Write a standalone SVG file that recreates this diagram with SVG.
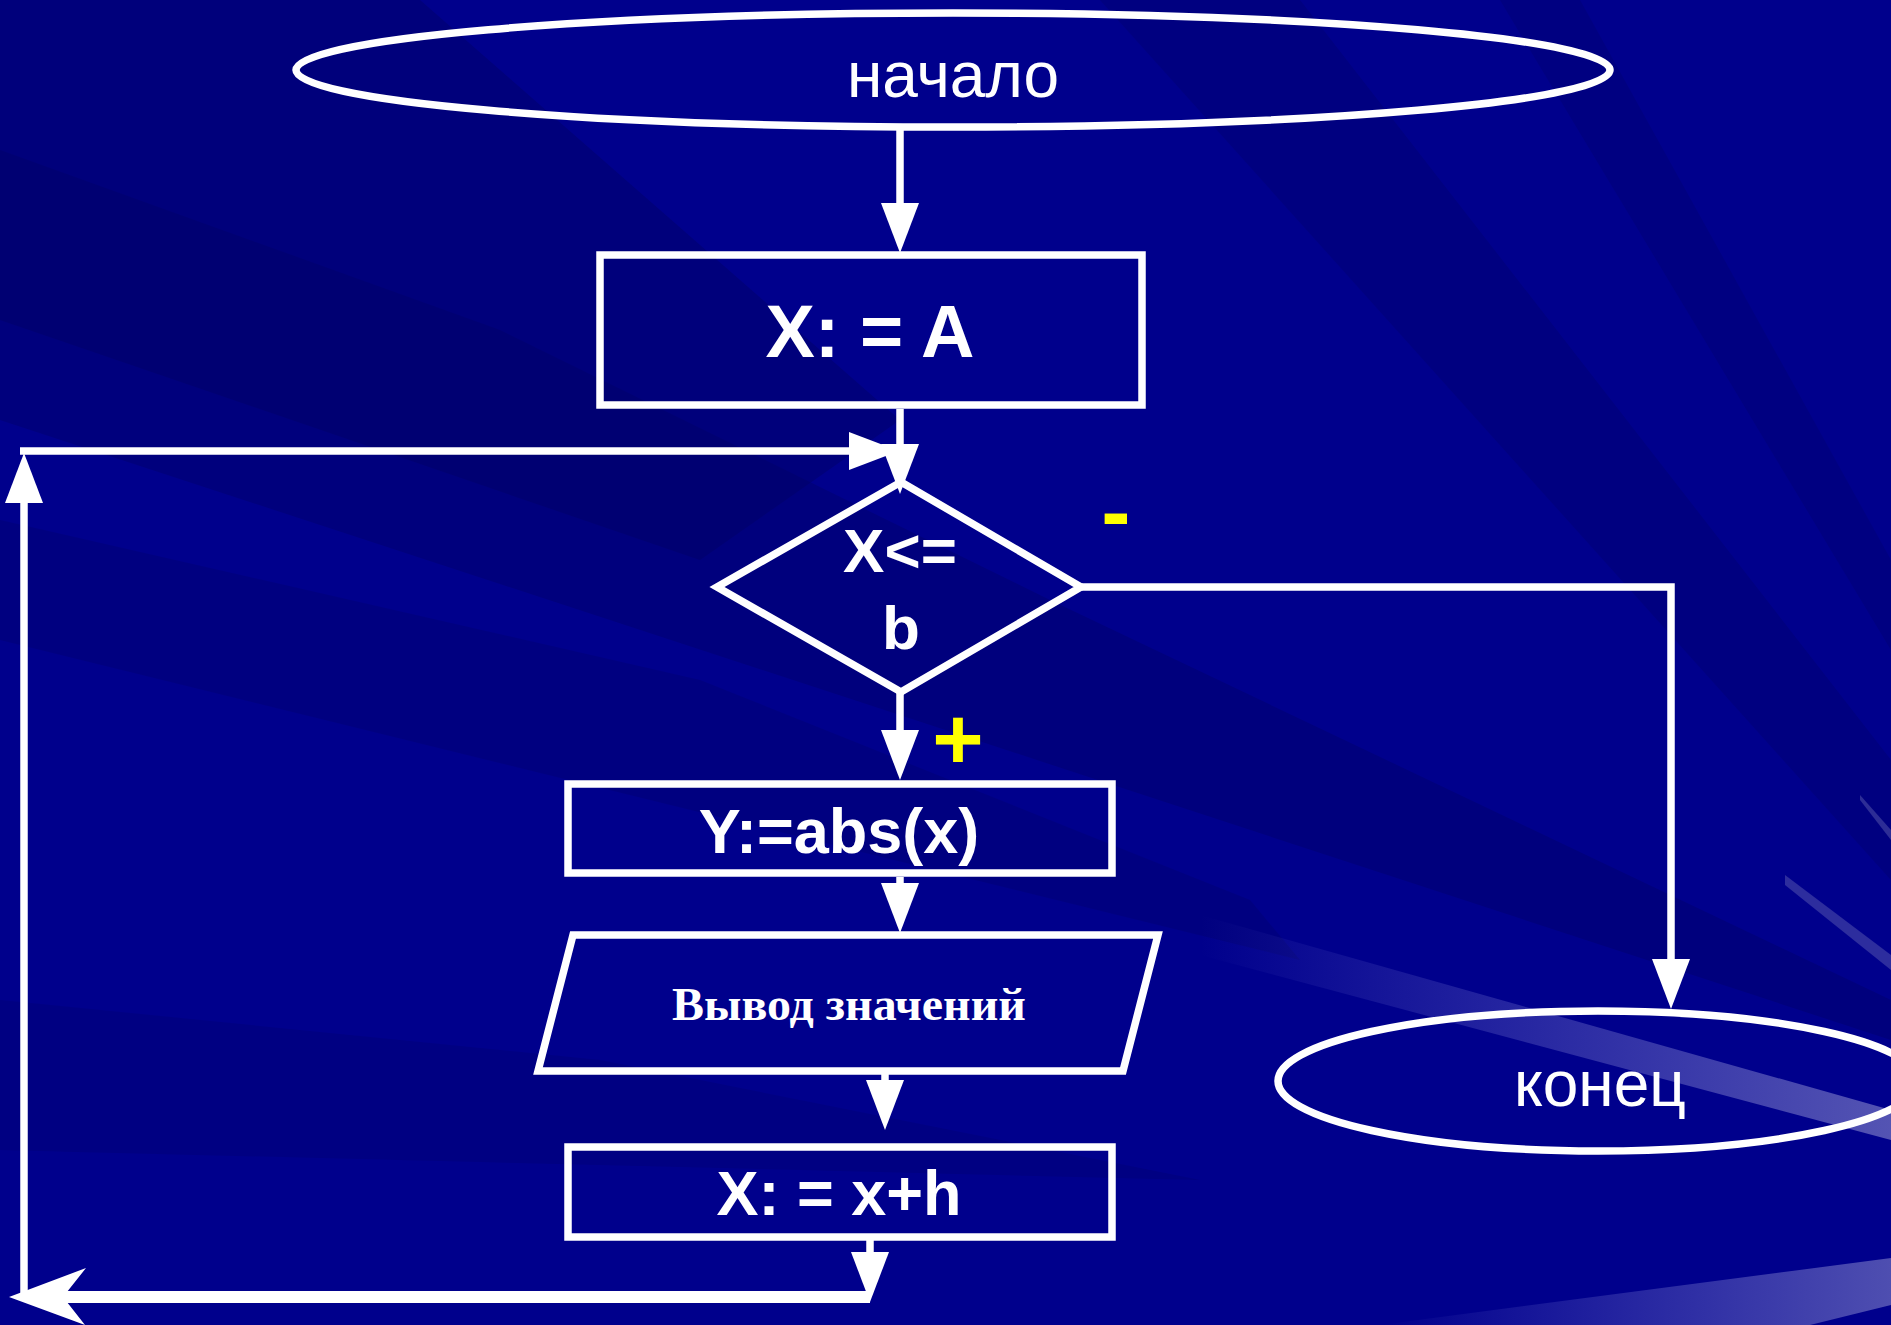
<svg xmlns="http://www.w3.org/2000/svg" width="1891" height="1325" viewBox="0 0 1891 1325">
<defs>
<style>
.shape{fill:none;stroke:#fff;stroke-width:7.5;}
.conn{fill:none;stroke:#fff;stroke-width:7.5;}
.t{fill:#fff;font-family:"Liberation Sans",Arial,sans-serif;text-anchor:middle;}
.b{font-weight:bold;}
.y{fill:#ffff00;font-family:"Liberation Sans",Arial,sans-serif;font-weight:bold;text-anchor:middle;}
.s{fill:#fff;font-family:"Liberation Serif","Times New Roman",serif;font-weight:bold;text-anchor:middle;}
</style>
<marker id="ah" markerUnits="userSpaceOnUse" markerWidth="52" markerHeight="40" refX="0" refY="19" orient="auto" viewBox="0 0 52 40">
<path d="M0,0 L50,19 L0,38 Z" fill="#fff"/>
</marker>
<linearGradient id="lt1" x1="0" y1="0" x2="1" y2="0">
<stop offset="0" stop-color="#6a6ad0" stop-opacity="0"/>
<stop offset="1" stop-color="#7070c0" stop-opacity="0.75"/>
</linearGradient>
<linearGradient id="lt2" x1="0" y1="0" x2="1" y2="0">
<stop offset="0" stop-color="#6a6ad0" stop-opacity="0"/>
<stop offset="1" stop-color="#7070c0" stop-opacity="0.7"/>
</linearGradient>
</defs>
<g id="background">
<rect x="0" y="0" width="1891" height="1325" fill="#00008c"/>
<polygon points="0,0 420,0 900,420 700,560 0,320" fill="#000070" opacity="0.6"/>
<polygon points="0,150 500,330 1050,600 1891,1000 1891,1040 0,420" fill="#000066" opacity="0.4"/>
<polygon points="0,520 700,680 1250,900 1300,960 0,640" fill="#000066" opacity="0.3"/>
<polygon points="1100,0 1300,0 1891,760 1891,880" fill="#000070" opacity="0.45"/>
<polygon points="1500,0 1580,0 1891,560 1891,650" fill="#000070" opacity="0.4"/>
<polygon points="0,1000 600,1060 1200,1180 0,1150" fill="#000070" opacity="0.35"/>
<polygon points="1200,915 1891,1110 1891,1140 1200,955" fill="url(#lt1)"/>
<polygon points="1380,1325 1891,1258 1891,1305 1810,1325" fill="url(#lt2)"/>
<polygon points="1785,875 1891,955 1891,970 1785,885" fill="#8080c0" opacity="0.35"/>
<polygon points="1860,795 1891,830 1891,840 1860,800" fill="#8080c0" opacity="0.35"/>
</g>
<g id="connectors">
<path class="conn" d="M900,130 V203" marker-end="url(#ah)"/>
<path class="conn" d="M900,409 V444" marker-end="url(#ah)"/>
<path class="conn" d="M20,451 H849" marker-end="url(#ah)"/>
<path class="conn" d="M24,1297 V503" marker-end="url(#ah)"/>
<path class="conn" d="M900,693 V730" marker-end="url(#ah)"/>
<path class="conn" d="M900,877 V883" marker-end="url(#ah)"/>
<path class="conn" d="M885,1071 V1080" marker-end="url(#ah)"/>
<path class="conn" d="M1082,587 H1671 V959" marker-end="url(#ah)"/>
<path class="conn" d="M870,1239 V1252" marker-end="url(#ah)"/>
<path d="M870,1297 H60" fill="none" stroke="#fff" stroke-width="12"/>
<polygon points="9,1297 86,1268 63,1297 85,1325" fill="#fff"/>
</g>
<g id="start">
<ellipse class="shape" cx="953" cy="70" rx="657" ry="57"/>
<text class="t" x="953" y="97" font-size="64">начало</text>
</g>
<g id="assign-a">
<rect class="shape" x="600" y="255" width="542" height="150"/>
<text class="t b" x="870" y="357" font-size="74">X: = A</text>
</g>
<g id="condition">
<polygon class="shape" points="901,482 1081,587 901,692 717,587"/>
<text class="t b" x="900" y="572" font-size="62">X&lt;=</text>
<text class="t b" x="901" y="649" font-size="62">b</text>
<text class="y" x="1116" y="541" font-size="88">-</text>
<text class="y" x="958" y="769" font-size="88">+</text>
</g>
<g id="compute-y">
<rect class="shape" x="568" y="784" width="544" height="89"/>
<text class="t b" x="839" y="853" font-size="63">Y:=abs(x)</text>
</g>
<g id="output">
<polygon class="shape" points="573,935 1158,935 1123,1071 538,1071"/>
<text class="s" x="849" y="1020" font-size="46" textLength="354" lengthAdjust="spacingAndGlyphs">Вывод значений</text>
</g>
<g id="step">
<rect class="shape" x="568" y="1147" width="544" height="90"/>
<text class="t b" x="839" y="1215" font-size="63">X: = x+h</text>
</g>
<g id="end">
<ellipse class="shape" cx="1598" cy="1081" rx="320" ry="70"/>
<text class="t" x="1600" y="1106" font-size="64">конец</text>
</g>
</svg>
